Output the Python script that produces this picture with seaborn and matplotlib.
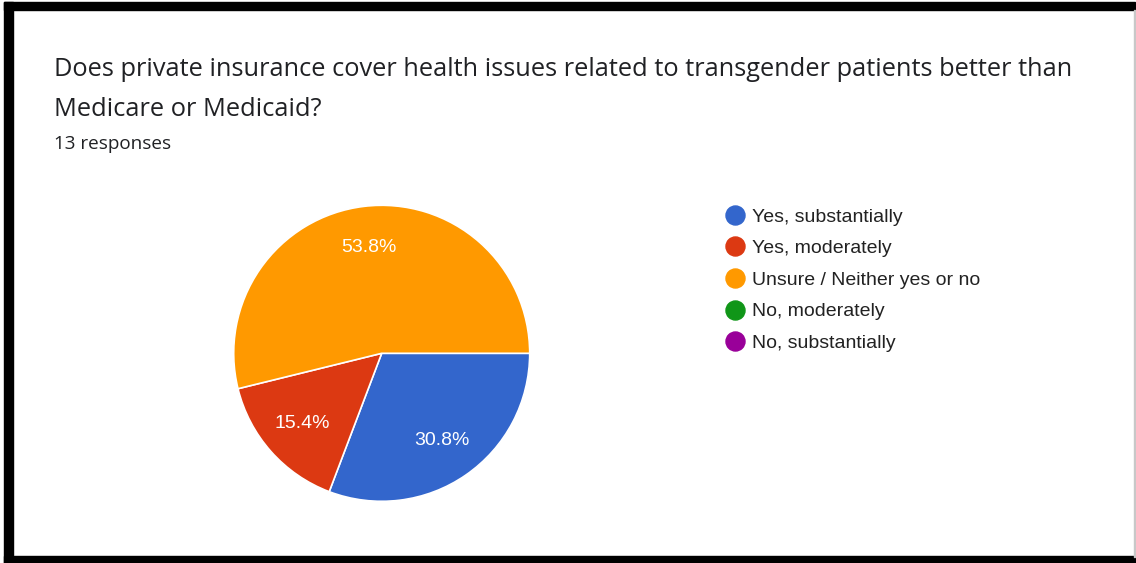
import matplotlib
matplotlib.use("Agg")
import matplotlib.pyplot as plt
from matplotlib.lines import Line2D
from matplotlib.patches import Rectangle
import seaborn as sns

# survey data
categories = ["Yes, substantially", "Yes, moderately", "Unsure / Neither yes or no",
              "No, moderately", "No, substantially"]
counts = [4, 2, 7, 0, 0]
colors = ["#3366CC", "#DC3912", "#FF9900", "#109618", "#990099"]
title_lines = ["Does private insurance cover health issues related to transgender patients better than",
               "Medicare or Medicaid?"]
subtitle = "13 responses"

sns.set_theme(style="white")
plt.rcParams["font.family"] = ["Liberation Sans", "DejaVu Sans"]

W, H = 1136, 563
fig = plt.figure(figsize=(W / 100, H / 100), dpi=100)
fig.patch.set_facecolor("white")

def fx(px):
    return px / W

def fy(py):
    return 1 - py / H

# frame around the screenshot
fig.add_artist(Rectangle((fx(4), fy(563)), fx(9), 561 / H, color="black", transform=fig.transFigure))
fig.add_artist(Rectangle((fx(4), fy(10)), fx(1131), 8 / H, color="black", transform=fig.transFigure))
fig.add_artist(Rectangle((fx(4), fy(563)), fx(1131), 7 / H, color="black", transform=fig.transFigure))
fig.add_artist(Rectangle((fx(1133.5), fy(557)), fx(1.5), 547 / H, color="#c8c8c8", transform=fig.transFigure))

# title
fig.text(fx(54), fy(76.5), title_lines[0], fontsize=18.25, family="Open Sans", color="#202124", va="baseline")
fig.text(fx(54), fy(115.5), title_lines[1], fontsize=18.25, family="Open Sans", color="#202124", va="baseline")
fig.text(fx(54), fy(148.7), subtitle, fontsize=13.6, family="Open Sans", color="#202124", va="baseline")

# pie
cx, cy, r = 381.7, 353.3, 148
ax = fig.add_axes([fx(cx - r), fy(cy + r), 2 * r / W, 2 * r / H])
nz = [i for i, c in enumerate(counts) if c > 0]
wedges, texts, autotexts = ax.pie(
    [counts[i] for i in nz],
    colors=[colors[i] for i in nz],
    startangle=0, counterclock=False,
    autopct="%1.1f%%", pctdistance=0.72,
    wedgeprops=dict(edgecolor="white", linewidth=1.2),
    textprops=dict(color="white", fontsize=14),
)
ax.set_xlim(-1, 1)
ax.set_ylim(-1, 1)
ax.set_aspect("equal")
ax.axis("off")

# legend
handles = [Line2D([], [], marker="o", ls="", ms=13.7, color=c) for c in colors]
fig.legend(handles, categories, loc="upper left", bbox_to_anchor=(fx(725.7), fy(208)),
           frameon=False, fontsize=14, handlelength=1.0, handletextpad=0.34,
           labelspacing=0.72, borderpad=0, borderaxespad=0, labelcolor="#222222")

fig.savefig("out.png", dpi=100)
